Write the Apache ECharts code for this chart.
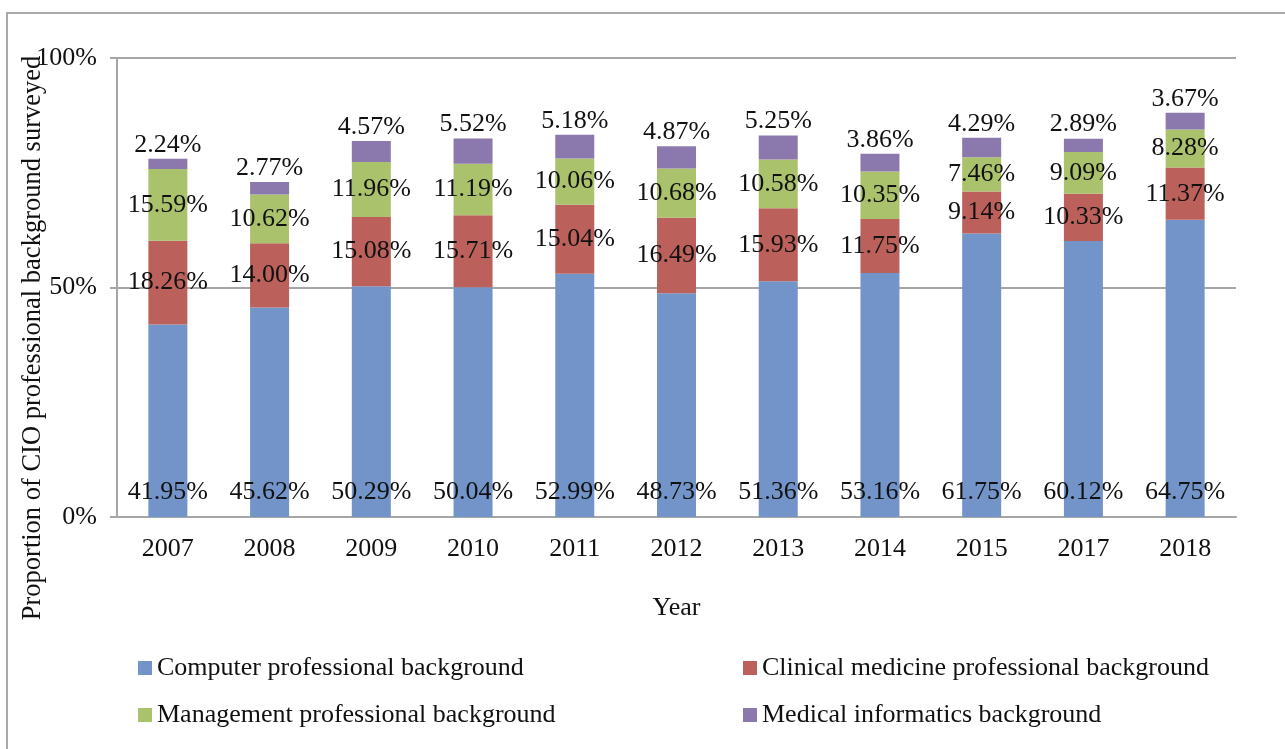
<!DOCTYPE html>
<html>
<head>
<meta charset="utf-8">
<script src="https://cdn.jsdelivr.net/npm/echarts@6/dist/echarts.min.js"></script>
<style>
  html, body { margin: 0; padding: 0; background: #fff; }
  #chart { width: 1285px; height: 749px; }
</style>
</head>
<body>
<div id="chart"></div>
<script>
// 年份
var years = ['2007', '2008', '2009', '2010', '2011', '2012', '2013', '2014', '2015', '2017', '2018'];
// 各专业背景比例 (%)
var computer = [41.95, 45.62, 50.29, 50.04, 52.99, 48.73, 51.36, 53.16, 61.75, 60.12, 64.75];
var clinical = [18.26, 14.00, 15.08, 15.71, 15.04, 16.49, 15.93, 11.75, 9.14, 10.33, 11.37];
var management = [15.59, 10.62, 11.96, 11.19, 10.06, 10.68, 10.58, 10.35, 7.46, 9.09, 8.28];
var informatics = [2.24, 2.77, 4.57, 5.52, 5.18, 4.87, 5.25, 3.86, 4.29, 2.89, 3.67];
var yTicks = [0, 50, 100];

var FONT = "'Liberation Serif', 'Times New Roman', serif";
var FS = 26;
var AXIS_GRAY = '#a6a6a6';

var myChart = echarts.init(document.getElementById('chart'));

function pct(p) {
    return p.value.toFixed(2) + '%';
}

function barSeries(name, data, color, label) {
    return {
        name: name,
        type: 'bar',
        stack: 'total',
        barWidth: 39,
        data: data,
        itemStyle: { color: color },
        label: Object.assign({
            show: true,
            formatter: pct,
            color: '#111',
            fontFamily: FONT,
            fontSize: FS
        }, label)
    };
}

var option = {
    animation: false,
    backgroundColor: '#fff',
    textStyle: { fontFamily: FONT },
    graphic: [{
        // 外框
        type: 'polyline',
        shape: { points: [[7, 749], [7, 13], [1285, 13]] },
        style: { stroke: '#a9a9a9', lineWidth: 2, fill: null }
    }, {
        // 纵轴标题
        type: 'text',
        x: 33,
        y: 338,
        rotation: Math.PI / 2,
        style: {
            text: 'Proportion of CIO professional background surveyed',
            font: '26.5px ' + FONT,
            fill: '#111',
            align: 'center',
            verticalAlign: 'middle'
        }
    }],
    grid: {
        left: 117,
        right: 49,
        top: 58,
        bottom: 232,
        outerBoundsMode: 'none'
    },
    legend: [{
        orient: 'vertical',
        left: 138,
        top: 655,
        padding: 0,
        itemWidth: 14,
        itemHeight: 14,
        itemGap: 21,
        icon: 'rect',
        textStyle: { fontFamily: FONT, fontSize: FS, color: '#111' },
        data: ['Computer professional background', 'Management professional background']
    }, {
        orient: 'vertical',
        left: 743,
        top: 655,
        padding: 0,
        itemWidth: 14,
        itemHeight: 14,
        itemGap: 21,
        icon: 'rect',
        textStyle: { fontFamily: FONT, fontSize: FS, color: '#111' },
        data: ['Clinical medicine professional background', 'Medical informatics background']
    }],
    xAxis: {
        type: 'category',
        data: years,
        name: 'Year',
        nameLocation: 'middle',
        nameGap: 78,
        nameTextStyle: { fontFamily: FONT, fontSize: FS, color: '#111' },
        axisLine: { lineStyle: { color: AXIS_GRAY, width: 2 } },
        axisTick: { length: 7, lineStyle: { color: AXIS_GRAY, width: 2 } },
        axisLabel: { fontFamily: FONT, fontSize: FS, color: '#111', margin: 19 }
    },
    yAxis: {
        type: 'value',
        min: yTicks[0],
        max: yTicks[yTicks.length - 1],
        interval: yTicks[1] - yTicks[0],
        axisLine: { show: true, lineStyle: { color: AXIS_GRAY, width: 2 } },
        axisTick: { show: true, length: 7, lineStyle: { color: AXIS_GRAY, width: 2 } },
        axisLabel: { fontFamily: FONT, fontSize: FS, color: '#111', margin: 20, formatter: '{value}%' },
        splitLine: { lineStyle: { color: AXIS_GRAY, width: 2 } }
    },
    series: [
        barSeries('Computer professional background', computer, '#7294c9', { position: 'insideBottom', distance: 12 }),
        barSeries('Clinical medicine professional background', clinical, '#bb605b', { position: 'inside' }),
        barSeries('Management professional background', management, '#abc26c', { position: 'inside' }),
        barSeries('Medical informatics background', informatics, '#8b79ae', { position: 'top', distance: 1 })
    ]
};

myChart.setOption(option);
</script>
</body>
</html>
